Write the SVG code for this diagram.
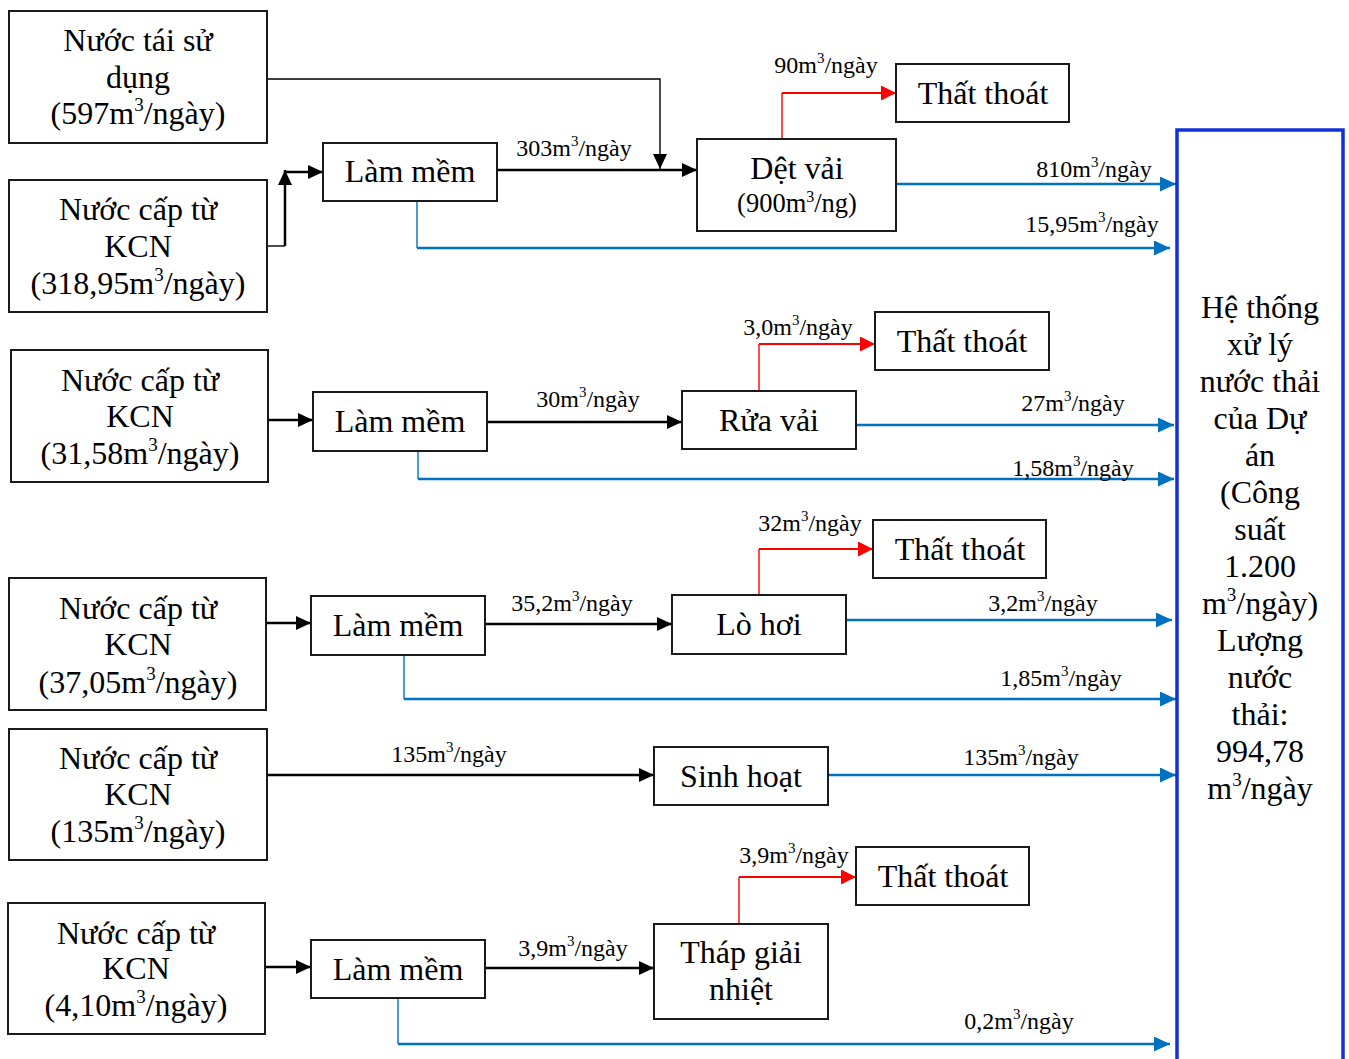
<svg xmlns="http://www.w3.org/2000/svg" width="1349" height="1059" viewBox="0 0 1349 1059">
  <style>
    .box { fill: #fff; stroke: #1a1a1a; stroke-width: 2; }
    .sys { fill: #fff; stroke: #1230d8; stroke-width: 3.5; }
    text { font-family: "Liberation Serif", "Times New Roman", serif; fill: #000; text-anchor: middle; }
    .big { font-size: 32px; }
    .mid { font-size: 26.5px; }
    .lbl { font-size: 24px; }
    .blk { fill: none; stroke: #000; stroke-width: 2.5; }
    .thin { fill: none; stroke: #000; stroke-width: 1.4; }
    .blu { fill: none; stroke: #0070c0; stroke-width: 2.5; }
    .bluv { fill: none; stroke: #0070c0; stroke-width: 1.4; }
    .red { fill: none; stroke: #ff0000; stroke-width: 2.2; }
    .redv { fill: none; stroke: #ff0000; stroke-width: 1.4; }
  </style>
  <defs>
    <marker id="ahBlack" markerUnits="userSpaceOnUse" markerWidth="16" markerHeight="14" refX="15" refY="7" orient="auto">
      <path d="M0,0 L15,7 L0,14 z" fill="#000"/>
    </marker>
    <marker id="ahBlue" markerUnits="userSpaceOnUse" markerWidth="17" markerHeight="15" refX="16" refY="7.5" orient="auto">
      <path d="M0,0 L16,7.5 L0,15 z" fill="#0070c0"/>
    </marker>
    <marker id="ahRed" markerUnits="userSpaceOnUse" markerWidth="16" markerHeight="15" refX="15" refY="7.5" orient="auto">
      <path d="M0,0 L15,7.5 L0,15 z" fill="#ff0000"/>
    </marker>
  </defs>
  <rect width="1349" height="1059" fill="#fff"/>

  <!-- connectors -->
  <g id="connectors">
    <!-- row 1: reused water and supply to weaving -->
    <path class="thin" d="M267,79 H660 V169" marker-end="url(#ahBlack)"/>
    <path class="thin" d="M267,246 H285"/>
    <path class="blk" d="M285,246 V170" marker-end="url(#ahBlack)"/>
    <path class="blk" d="M285,172 H323" marker-end="url(#ahBlack)"/>
    <path class="blk" d="M497,170 H697" marker-end="url(#ahBlack)"/>
    <path class="redv" d="M782,139 V93"/>
    <path class="red" d="M782,93 H896" marker-end="url(#ahRed)"/>
    <path class="blu" d="M896,184 H1176" marker-end="url(#ahBlue)"/>
    <path class="bluv" d="M417,201 V248"/>
    <path class="blu" d="M417,248 H1170" marker-end="url(#ahBlue)"/>

    <!-- row 2: fabric washing -->
    <path class="blk" d="M268,420 H313" marker-end="url(#ahBlack)"/>
    <path class="blk" d="M487,422 H682" marker-end="url(#ahBlack)"/>
    <path class="redv" d="M759,391 V344"/>
    <path class="red" d="M759,344 H875" marker-end="url(#ahRed)"/>
    <path class="blu" d="M856,425 H1174" marker-end="url(#ahBlue)"/>
    <path class="bluv" d="M418,451 V479"/>
    <path class="blu" d="M418,479 H1174" marker-end="url(#ahBlue)"/>

    <!-- row 3: boiler -->
    <path class="blk" d="M266,623 H311" marker-end="url(#ahBlack)"/>
    <path class="blk" d="M485,624 H672" marker-end="url(#ahBlack)"/>
    <path class="redv" d="M759,595 V549"/>
    <path class="red" d="M759,549 H873" marker-end="url(#ahRed)"/>
    <path class="blu" d="M846,620 H1172" marker-end="url(#ahBlue)"/>
    <path class="bluv" d="M404,655 V699"/>
    <path class="blu" d="M404,699 H1176" marker-end="url(#ahBlue)"/>

    <!-- row 4: domestic use -->
    <path class="blk" d="M267,775 H654" marker-end="url(#ahBlack)"/>
    <path class="blu" d="M828,775 H1176" marker-end="url(#ahBlue)"/>

    <!-- row 5: cooling tower -->
    <path class="blk" d="M265,967 H311" marker-end="url(#ahBlack)"/>
    <path class="blk" d="M485,968 H654" marker-end="url(#ahBlack)"/>
    <path class="redv" d="M739,924 V877"/>
    <path class="red" d="M739,877 H856" marker-end="url(#ahRed)"/>
    <path class="bluv" d="M398,998 V1044"/>
    <path class="blu" d="M398,1044 H1170" marker-end="url(#ahBlue)"/>

    <!-- flow labels -->
    <text class="lbl" x="574" y="156">303m<tspan font-size="15" dy="-10">3</tspan><tspan dy="10">/ngày</tspan></text>
    <text class="lbl" x="826" y="73">90m<tspan font-size="15" dy="-10">3</tspan><tspan dy="10">/ngày</tspan></text>
    <text class="lbl" x="1094" y="177">810m<tspan font-size="15" dy="-10">3</tspan><tspan dy="10">/ngày</tspan></text>
    <text class="lbl" x="1092" y="232">15,95m<tspan font-size="15" dy="-10">3</tspan><tspan dy="10">/ngày</tspan></text>
    <text class="lbl" x="588" y="407">30m<tspan font-size="15" dy="-10">3</tspan><tspan dy="10">/ngày</tspan></text>
    <text class="lbl" x="798" y="335">3,0m<tspan font-size="15" dy="-10">3</tspan><tspan dy="10">/ngày</tspan></text>
    <text class="lbl" x="1073" y="411">27m<tspan font-size="15" dy="-10">3</tspan><tspan dy="10">/ngày</tspan></text>
    <text class="lbl" x="1073" y="476">1,58m<tspan font-size="15" dy="-10">3</tspan><tspan dy="10">/ngày</tspan></text>
    <text class="lbl" x="572" y="611">35,2m<tspan font-size="15" dy="-10">3</tspan><tspan dy="10">/ngày</tspan></text>
    <text class="lbl" x="810" y="531">32m<tspan font-size="15" dy="-10">3</tspan><tspan dy="10">/ngày</tspan></text>
    <text class="lbl" x="1043" y="611">3,2m<tspan font-size="15" dy="-10">3</tspan><tspan dy="10">/ngày</tspan></text>
    <text class="lbl" x="1061" y="686">1,85m<tspan font-size="15" dy="-10">3</tspan><tspan dy="10">/ngày</tspan></text>
    <text class="lbl" x="449" y="762">135m<tspan font-size="15" dy="-10">3</tspan><tspan dy="10">/ngày</tspan></text>
    <text class="lbl" x="1021" y="765">135m<tspan font-size="15" dy="-10">3</tspan><tspan dy="10">/ngày</tspan></text>
    <text class="lbl" x="573" y="956">3,9m<tspan font-size="15" dy="-10">3</tspan><tspan dy="10">/ngày</tspan></text>
    <text class="lbl" x="794" y="863">3,9m<tspan font-size="15" dy="-10">3</tspan><tspan dy="10">/ngày</tspan></text>
    <text class="lbl" x="1019" y="1029">0,2m<tspan font-size="15" dy="-10">3</tspan><tspan dy="10">/ngày</tspan></text>
  </g>

  <!-- water sources -->
  <g id="src-reuse">
    <rect class="box" x="9" y="11" width="258" height="132"/>
    <text class="big" x="138" y="51">Nước tái sử</text>
    <text class="big" x="138" y="88">dụng</text>
    <text class="big" x="138" y="124">(597m<tspan font-size="19" dy="-13">3</tspan><tspan dy="13">/ngày)</tspan></text>
  </g>
  <g id="src-kcn-1">
    <rect class="box" x="9" y="180" width="258" height="132"/>
    <text class="big" x="138" y="220">Nước cấp từ</text>
    <text class="big" x="138" y="257">KCN</text>
    <text class="big" x="138" y="294">(318,95m<tspan font-size="19" dy="-13">3</tspan><tspan dy="13">/ngày)</tspan></text>
  </g>
  <g id="src-kcn-2">
    <rect class="box" x="11" y="350" width="257" height="132"/>
    <text class="big" x="140" y="391">Nước cấp từ</text>
    <text class="big" x="140" y="427">KCN</text>
    <text class="big" x="140" y="464">(31,58m<tspan font-size="19" dy="-13">3</tspan><tspan dy="13">/ngày)</tspan></text>
  </g>
  <g id="src-kcn-3">
    <rect class="box" x="9" y="578" width="257" height="132"/>
    <text class="big" x="138" y="619">Nước cấp từ</text>
    <text class="big" x="138" y="655">KCN</text>
    <text class="big" x="138" y="693">(37,05m<tspan font-size="19" dy="-13">3</tspan><tspan dy="13">/ngày)</tspan></text>
  </g>
  <g id="src-kcn-4">
    <rect class="box" x="9" y="729" width="258" height="131"/>
    <text class="big" x="138" y="769">Nước cấp từ</text>
    <text class="big" x="138" y="805">KCN</text>
    <text class="big" x="138" y="842">(135m<tspan font-size="19" dy="-13">3</tspan><tspan dy="13">/ngày)</tspan></text>
  </g>
  <g id="src-kcn-5">
    <rect class="box" x="8" y="903" width="257" height="131"/>
    <text class="big" x="136" y="944">Nước cấp từ</text>
    <text class="big" x="136" y="979">KCN</text>
    <text class="big" x="136" y="1016">(4,10m<tspan font-size="19" dy="-13">3</tspan><tspan dy="13">/ngày)</tspan></text>
  </g>

  <!-- softening units -->
  <g id="soft-1">
    <rect class="box" x="323" y="143" width="174" height="58"/>
    <text class="big" x="410" y="182">Làm mềm</text>
  </g>
  <g id="soft-2">
    <rect class="box" x="313" y="392" width="174" height="59"/>
    <text class="big" x="400" y="432">Làm mềm</text>
  </g>
  <g id="soft-3">
    <rect class="box" x="311" y="596" width="174" height="59"/>
    <text class="big" x="398" y="636">Làm mềm</text>
  </g>
  <g id="soft-4">
    <rect class="box" x="311" y="940" width="174" height="58"/>
    <text class="big" x="398" y="980">Làm mềm</text>
  </g>

  <!-- process units -->
  <g id="weaving">
    <rect class="box" x="697" y="139" width="199" height="92"/>
    <text class="big" x="797" y="179">Dệt vải</text>
    <text class="mid" x="797" y="212">(900m<tspan font-size="16" dy="-10">3</tspan><tspan dy="10">/ng)</tspan></text>
  </g>
  <g id="washing">
    <rect class="box" x="682" y="391" width="174" height="58"/>
    <text class="big" x="769" y="431">Rửa vải</text>
  </g>
  <g id="boiler">
    <rect class="box" x="672" y="595" width="174" height="59"/>
    <text class="big" x="759" y="635">Lò hơi</text>
  </g>
  <g id="domestic">
    <rect class="box" x="654" y="747" width="174" height="58"/>
    <text class="big" x="741" y="787">Sinh hoạt</text>
  </g>
  <g id="cooling-tower">
    <rect class="box" x="654" y="924" width="174" height="95"/>
    <text class="big" x="741" y="963">Tháp giải</text>
    <text class="big" x="741" y="1000">nhiệt</text>
  </g>

  <!-- losses -->
  <g id="loss-1">
    <rect class="box" x="896" y="64" width="173" height="58"/>
    <text class="big" x="983" y="104">Thất thoát</text>
  </g>
  <g id="loss-2">
    <rect class="box" x="875" y="312" width="174" height="58"/>
    <text class="big" x="962" y="352">Thất thoát</text>
  </g>
  <g id="loss-3">
    <rect class="box" x="873" y="520" width="173" height="58"/>
    <text class="big" x="960" y="560">Thất thoát</text>
  </g>
  <g id="loss-4">
    <rect class="box" x="856" y="847" width="173" height="58"/>
    <text class="big" x="943" y="887">Thất thoát</text>
  </g>

  <!-- wastewater treatment system -->
  <g id="wwtp">
    <rect class="sys" x="1177" y="130" width="166" height="940"/>
    <text class="big" x="1260" y="318">Hệ thống</text>
    <text class="big" x="1260" y="355">xử lý</text>
    <text class="big" x="1260" y="392">nước thải</text>
    <text class="big" x="1260" y="429">của Dự</text>
    <text class="big" x="1260" y="466">án</text>
    <text class="big" x="1260" y="503">(Công</text>
    <text class="big" x="1260" y="540">suất</text>
    <text class="big" x="1260" y="577">1.200</text>
    <text class="big" x="1260" y="614">m<tspan font-size="19" dy="-13">3</tspan><tspan dy="13">/ngày)</tspan></text>
    <text class="big" x="1260" y="651">Lượng</text>
    <text class="big" x="1260" y="688">nước</text>
    <text class="big" x="1260" y="725">thải:</text>
    <text class="big" x="1260" y="762">994,78</text>
    <text class="big" x="1260" y="799">m<tspan font-size="19" dy="-13">3</tspan><tspan dy="13">/ngày</tspan></text>
  </g>
</svg>
